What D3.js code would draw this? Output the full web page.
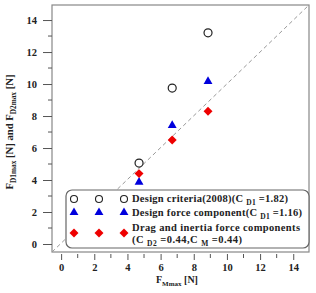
<!DOCTYPE html>
<html><head><meta charset="utf-8">
<script src="https://cdn.jsdelivr.net/npm/d3@7"></script>
<style>body{margin:0;background:#fff}svg{display:block}text{font-family:"Liberation Serif","Times New Roman",serif;font-weight:bold}</style>
</head><body><svg id="c" width="316" height="293"></svg>
<script>
const fMmax = [4.7, 6.7, 8.86];
const criteria2008 = [5.06, 9.75, 13.2];
const designForce = [3.9, 7.44, 10.2];
const dragInertia = [4.4, 6.5, 8.3];
const xTicks = [0, 2, 4, 6, 8, 10, 12, 14];
const yTicks = [0, 2, 4, 6, 8, 10, 12, 14];

const svg = d3.select("#c");
const L = 52, R = 309, T = 5, B = 252;
const x = d3.scaleLinear().domain([-0.55, 14.95]).range([L, R]);
const y = d3.scaleLinear().domain([-0.5, 14.94]).range([B, T]);

// frame
svg.append("rect").attr("x", L).attr("y", T).attr("width", R - L).attr("height", B - T)
  .attr("fill", "none").attr("stroke", "#888").attr("stroke-width", 1.2);

// 1:1 dashed line
svg.append("line").attr("x1", x(-0.55)).attr("y1", y(-0.5)).attr("x2", x(14.95)).attr("y2", y(14.94))
  .attr("stroke", "#999").attr("stroke-width", 1).attr("stroke-dasharray", "4,3");

// x axis (ticks hang below)
const xMinor = d3.range(1, 15, 2);
const gx = svg.append("g").attr("transform", `translate(0,${B + 2})`);
gx.call(d3.axisBottom(x).tickValues(xTicks).tickSize(6).tickFormat(d3.format("d")));
gx.select(".domain").remove();
gx.selectAll("line").attr("stroke", "#555");
gx.selectAll("text").attr("font-size", 10.5).attr("y", 17).attr("dy", 0).attr("fill", "#222");
gx.selectAll(".minor").data(xMinor).enter().append("line")
  .attr("x1", d => x(d)).attr("x2", d => x(d)).attr("y1", 0).attr("y2", 4).attr("stroke", "#555");

// y axis
const yMinor = d3.range(1, 15, 2);
const gy = svg.append("g").attr("transform", `translate(${L},0)`);
gy.call(d3.axisLeft(y).tickValues(yTicks).tickSize(9).tickFormat(d3.format("d")));
gy.select(".domain").remove();
gy.selectAll("line").attr("stroke", "#555");
gy.selectAll("text").attr("font-size", 10.5).attr("x", -15).attr("fill", "#222");
gy.selectAll(".minor").data(yMinor).enter().append("line")
  .attr("x1", -4).attr("x2", 0).attr("y1", d => y(d)).attr("y2", d => y(d)).attr("stroke", "#555");

// data
const tri = d3.symbol().type(d3.symbolTriangle).size(34);
const sq = d3.symbol().type(d3.symbolSquare).size(40);
svg.append("g").selectAll("circle").data(fMmax).enter().append("circle")
  .attr("cx", d => x(d)).attr("cy", (d, i) => y(criteria2008[i])).attr("r", 4)
  .attr("fill", "#fff").attr("stroke", "#222").attr("stroke-width", 1.2);
svg.append("g").selectAll("path").data(fMmax).enter().append("path")
  .attr("d", tri).attr("transform", (d, i) => `translate(${x(d)},${y(designForce[i]) + 0.5})`).attr("fill", "#0000dd");
svg.append("g").selectAll("path").data(fMmax).enter().append("path")
  .attr("d", sq).attr("transform", (d, i) => `translate(${x(d)},${y(dragInertia[i])}) rotate(45)`).attr("fill", "#ee0000");

// legend
const lg = svg.append("g");
lg.append("rect").attr("x", 66).attr("y", 190).attr("width", 243).attr("height", 58).attr("rx", 6)
  .attr("fill", "#fff").attr("stroke", "#666").attr("stroke-width", 1.2);
const sx = [74, 99, 124];
sx.forEach(px => {
  lg.append("circle").attr("cx", px).attr("cy", 199).attr("r", 3.5).attr("fill", "#fff").attr("stroke", "#222").attr("stroke-width", 1.1);
  lg.append("path").attr("d", tri).attr("transform", `translate(${px},${212.5})`).attr("fill", "#0000dd");
  lg.append("path").attr("d", sq).attr("transform", `translate(${px},${233}) rotate(45)`).attr("fill", "#ee0000");
});
function legText(yy, len, parts) {
  const t = lg.append("text").attr("x", 132).attr("y", yy).attr("font-size", 10.5).attr("fill", "#222")
    .attr("textLength", len).attr("lengthAdjust", "spacing");
  parts.forEach(p => {
    const s = t.append("tspan").text(p[0]);
    if (p[1] === "sub") s.attr("font-size", 7.5).attr("dy", 2.5);
    else if (p[1] === "up") s.attr("dy", -2.5);
  });
}
legText(202, 156, [["Design criteria(2008)(C "], ["D1", "sub"], [" =1.82)", "up"]]);
legText(216, 170, [["Design force component(C "], ["D1", "sub"], [" =1.16)", "up"]]);
legText(230.5, 168, [["Drag and inertia force components"]]);
legText(243, 110, [["(C "], ["D2", "sub"], [" =0.44,C ", "up"], ["M", "sub"], [" =0.44)", "up"]]);

// axis titles
const xt = svg.append("text").attr("x", 156).attr("y", 283).attr("font-size", 10).attr("fill", "#222");
xt.append("tspan").text("F");
xt.append("tspan").text("Mmax").attr("font-size", 7).attr("dy", 3);
xt.append("tspan").text(" [N]").attr("dy", -3);

const yt = svg.append("text").attr("text-anchor", "middle")
  .attr("font-size", 11).attr("fill", "#222");
yt.append("tspan").text("F");
yt.append("tspan").text("D1max").attr("font-size", 7.5).attr("dy", 3);
yt.append("tspan").text(" [N] and F").attr("dy", -3);
yt.append("tspan").text("D2max").attr("font-size", 7.5).attr("dy", 3);
yt.append("tspan").text(" [N]").attr("dy", -3);
const yw = yt.node().getBBox().width;
yt.attr("transform", `translate(13,132) rotate(-90) scale(${115 / yw},1)`);
</script></body></html>
